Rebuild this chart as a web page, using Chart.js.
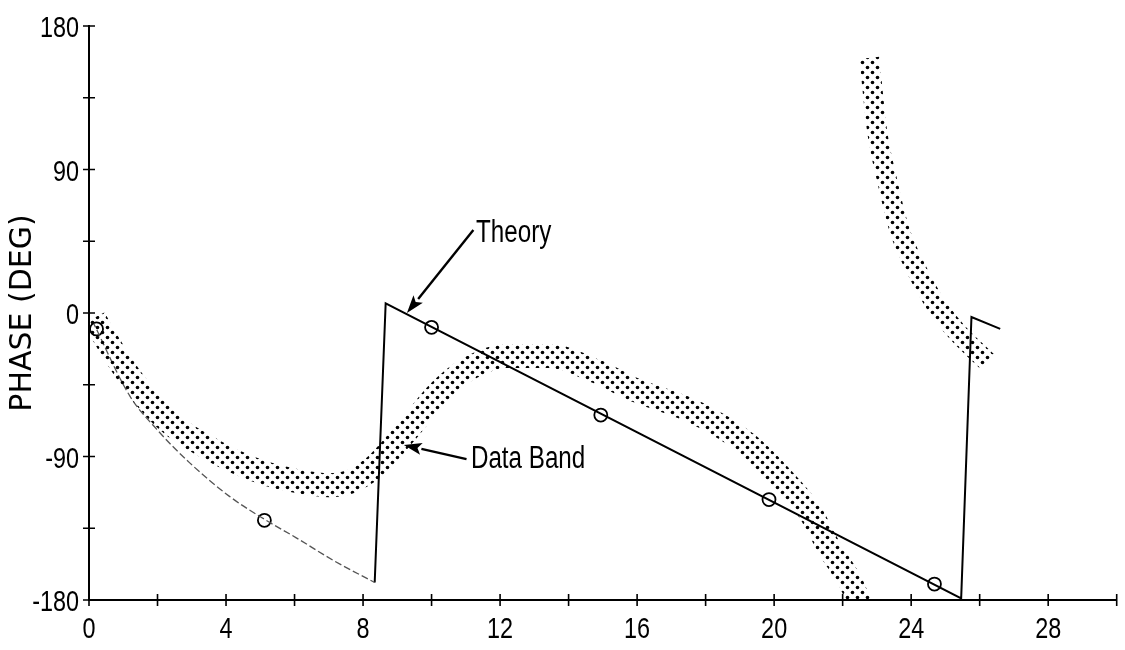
<!DOCTYPE html>
<html>
<head>
<meta charset="utf-8">
<script src="https://cdn.jsdelivr.net/npm/chart.js@4.4.1/dist/chart.umd.min.js"></script>
<style>
  html, body { margin: 0; padding: 0; background: #fff; }
  #wrap { width: 1125px; height: 650px; position: relative; }
</style>
</head>
<body>
<div id="wrap"><canvas id="phase"></canvas></div>
<script>
// axis labels
const xTickLabels = [0, 4, 8, 12, 16, 20, 24, 28];
const yTickLabels = [-180, -90, 0, 90, 180];

// measured data band, lower branch (runs off the bottom at -180)
const bandLowX = [0.15, 0.32, 1.19, 2.16, 3.6, 5.06, 6.2, 7.0, 7.6, 8.3, 9.24, 10.2, 11.0, 12.2, 13.4, 14.85, 15.8, 17.76, 19.2, 20.2, 21.05, 21.6, 22.3, 22.65];
const bandLowY = [-3, -10, -40, -65, -86, -100, -106, -108, -106, -97, -75, -50, -36, -27, -27, -37, -47, -63, -82, -103, -125, -147, -172, -192];
// upper branch after the wrap
const bandHighX = [22.78, 23.0, 23.3, 23.66, 24.16, 24.7, 25.3, 26.1, 26.25];
const bandHighY = [160, 115, 83, 52, 27, 6, -11, -28, -31];

// theory, low-frequency part
const theoryLeftX = [0.1, 1.19, 1.98, 2.94, 4.1, 5.17, 6.05, 7.2, 8.34];
const theoryLeftY = [-5, -52, -73, -94, -115, -130, -141, -156, -169];
// theory, wrapped linear part
const theoryX = [8.34, 8.66, 25.46, 25.76, 26.6];
const theoryY = [-169, 6, -179, -2.5, -10];
// computed points on the theory curve
const markX = [0.22, 5.12, 10.0, 14.94, 19.85, 24.68];
const markY = [-10, -130, -9, -64, -117, -170];

const pts = (xs, ys) => xs.map((x, i) => ({ x, y: ys[i] }));

const canvas = document.getElementById('phase');

// halftone dot fill for the band
function dotPattern() {
  const c = document.createElement('canvas');
  c.width = 10; c.height = 10;
  const g = c.getContext('2d');
  g.fillStyle = '#000';
  [[2.5, 2.5], [7.5, 7.5]].forEach(([cx, cy]) => {
    g.beginPath();
    g.arc(cx, cy, 1.8, 0, Math.PI * 2);
    g.fill();
  });
  return canvas.getContext('2d').createPattern(c, 'repeat');
}
const dots = dotPattern();

const labelFont = "'Liberation Sans', Arial, sans-serif";
const squeeze = 0.78; // narrow lettering

function narrowText(ctx, text, px, py, size, align) {
  ctx.save();
  ctx.translate(px, py);
  ctx.scale(squeeze, 1);
  ctx.font = size + 'px ' + labelFont;
  ctx.textAlign = align;
  ctx.textBaseline = 'alphabetic';
  ctx.fillText(text, 0, 0);
  ctx.restore();
}

// tick marks drawn as small crosses through the axis lines, plus tick labels
const crossTicks = {
  id: 'crossTicks',
  afterDraw(chart) {
    const { ctx, scales: { x, y } } = chart;
    ctx.save();
    ctx.strokeStyle = '#000';
    ctx.fillStyle = '#000';
    ctx.lineWidth = 1.6;
    ctx.beginPath();
    x.ticks.forEach(t => {
      const px = x.getPixelForValue(t.value);
      ctx.moveTo(px, y.bottom - 6);
      ctx.lineTo(px, y.bottom + 6);
    });
    y.ticks.forEach(t => {
      const py = y.getPixelForValue(t.value);
      ctx.moveTo(x.left - 6, py);
      ctx.lineTo(x.left + 6, py);
    });
    ctx.stroke();
    xTickLabels.forEach(v => narrowText(ctx, String(v), x.getPixelForValue(v), y.bottom + 38, 30, 'center'));
    yTickLabels.forEach(v => narrowText(ctx, String(v), x.left - 10, y.getPixelForValue(v) + 11, 30, 'right'));
    ctx.restore();
  }
};

// callout labels with arrows, in data units
const notes = [
  { text: 'Theory', tx: 11.3, ty: 44.5, from: [11.22, 52], to: [9.28, 0] },
  { text: 'Data Band', tx: 11.15, ty: -97.5, from: [11.02, -91.6], to: [9.19, -82.8] }
];

const callouts = {
  id: 'callouts',
  afterDraw(chart) {
    const { ctx, scales: { x, y } } = chart;
    ctx.save();
    ctx.fillStyle = '#000';
    ctx.strokeStyle = '#000';
    ctx.lineWidth = 2.4;
    notes.forEach(n => {
      narrowText(ctx, n.text, x.getPixelForValue(n.tx), y.getPixelForValue(n.ty), 31, 'left');
      const x0 = x.getPixelForValue(n.from[0]), y0 = y.getPixelForValue(n.from[1]);
      const x1 = x.getPixelForValue(n.to[0]), y1 = y.getPixelForValue(n.to[1]);
      const a = Math.atan2(y1 - y0, x1 - x0);
      const len = 18, half = 6;
      const bx = x1 - len * Math.cos(a), by = y1 - len * Math.sin(a);
      ctx.beginPath();
      ctx.moveTo(x0, y0);
      ctx.lineTo(bx, by);
      ctx.stroke();
      ctx.beginPath();
      ctx.moveTo(x1, y1);
      ctx.lineTo(bx + half * Math.sin(a), by - half * Math.cos(a));
      ctx.lineTo(bx + 4 * Math.cos(a), by + 4 * Math.sin(a));
      ctx.lineTo(bx - half * Math.sin(a), by + half * Math.cos(a));
      ctx.closePath();
      ctx.fill();
    });
    ctx.restore();
  }
};

new Chart(canvas, {
  type: 'scatter',
  data: {
    datasets: [
      {
        data: pts(bandLowX, bandLowY),
        showLine: true,
        borderColor: dots,
        borderWidth: 24,
        borderCapStyle: 'butt',
        cubicInterpolationMode: 'monotone',
        pointRadius: 0,
        clip: 0
      },
      {
        data: pts(bandHighX, bandHighY),
        showLine: true,
        borderColor: dots,
        borderWidth: 20,
        borderCapStyle: 'butt',
        cubicInterpolationMode: 'monotone',
        pointRadius: 0,
        clip: 0
      },
      {
        data: pts(theoryLeftX, theoryLeftY),
        showLine: true,
        borderColor: '#555',
        borderWidth: 1.3,
        borderDash: [7, 3],
        cubicInterpolationMode: 'monotone',
        pointRadius: 0,
        clip: 0
      },
      {
        data: pts(theoryX, theoryY),
        showLine: true,
        borderColor: '#000',
        borderWidth: 2,
        tension: 0,
        pointRadius: 0,
        clip: 0
      },
      {
        data: pts(markX, markY),
        showLine: false,
        pointStyle: 'circle',
        pointRadius: 6.5,
        pointBorderWidth: 1.8,
        pointBorderColor: '#000',
        pointBackgroundColor: 'rgba(255,255,255,0)'
      }
    ]
  },
  options: {
    responsive: true,
    maintainAspectRatio: false,
    animation: false,
    layout: { padding: { top: 26, right: 5, left: 0, bottom: 0 } },
    plugins: {
      legend: { display: false },
      tooltip: { enabled: false }
    },
    scales: {
      x: {
        type: 'linear',
        min: 0,
        max: 30,
        grid: { display: false },
        border: { display: true, color: '#000', width: 2 },
        ticks: { stepSize: 2, autoSkip: false, display: false },
        afterFit: s => { s.height = 50; }
      },
      y: {
        type: 'linear',
        min: -180,
        max: 180,
        grid: { display: false },
        border: { display: true, color: '#000', width: 2 },
        ticks: { stepSize: 45, autoSkip: false, display: false },
        title: {
          display: true,
          text: 'PHASE (DEG)',
          color: '#000',
          font: { family: "'DejaVu Sans', sans-serif", size: 30 },
          padding: { top: 5, bottom: 0 }
        },
        afterFit: s => { s.width = 89; }
      }
    }
  },
  plugins: [crossTicks, callouts]
});
</script>
</body>
</html>
